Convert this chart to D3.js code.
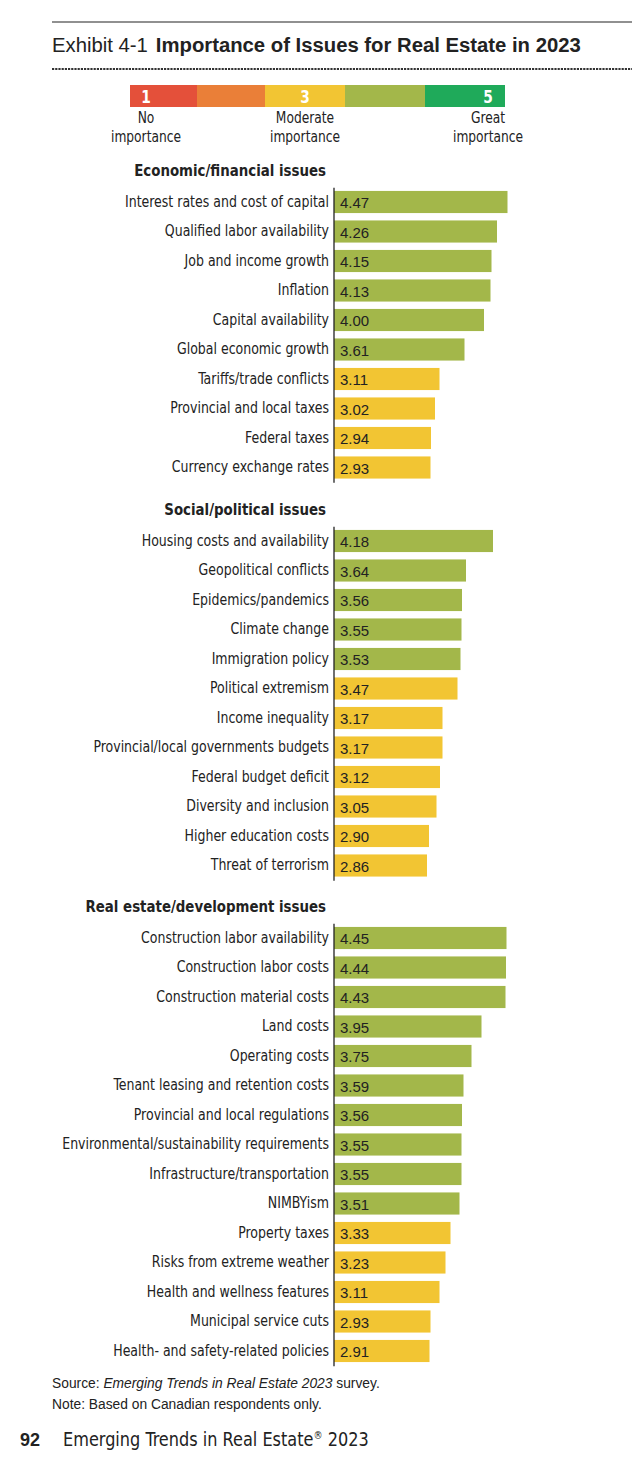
<!DOCTYPE html>
<html>
<head>
<meta charset="utf-8">
<script src="https://cdn.jsdelivr.net/npm/d3@7"></script>
<style>
  body { margin: 0; background: #fff; }
  svg { display: block; }
  .narrow { font-family: 'Liberation Sans Narrow', 'Arial Narrow', 'DejaVu Sans Condensed', sans-serif; }
  .sans { font-family: 'Liberation Sans', Arial, Helvetica, sans-serif; }
</style>
</head>
<body>
<script>
const econLabels = [
  'Interest rates and cost of capital',
  'Qualified labor availability',
  'Job and income growth',
  'Inflation',
  'Capital availability',
  'Global economic growth',
  'Tariffs/trade conflicts',
  'Provincial and local taxes',
  'Federal taxes',
  'Currency exchange rates'
];
const econValues = [4.47, 4.26, 4.15, 4.13, 4.00, 3.61, 3.11, 3.02, 2.94, 2.93];

const socialLabels = [
  'Housing costs and availability',
  'Geopolitical conflicts',
  'Epidemics/pandemics',
  'Climate change',
  'Immigration policy',
  'Political extremism',
  'Income inequality',
  'Provincial/local governments budgets',
  'Federal budget deficit',
  'Diversity and inclusion',
  'Higher education costs',
  'Threat of terrorism'
];
const socialValues = [4.18, 3.64, 3.56, 3.55, 3.53, 3.47, 3.17, 3.17, 3.12, 3.05, 2.90, 2.86];

const realLabels = [
  'Construction labor availability',
  'Construction labor costs',
  'Construction material costs',
  'Land costs',
  'Operating costs',
  'Tenant leasing and retention costs',
  'Provincial and local regulations',
  'Environmental/sustainability requirements',
  'Infrastructure/transportation',
  'NIMBYism',
  'Property taxes',
  'Risks from extreme weather',
  'Health and wellness features',
  'Municipal service cuts',
  'Health- and safety-related policies'
];
const realValues = [4.45, 4.44, 4.43, 3.95, 3.75, 3.59, 3.56, 3.55, 3.55, 3.51, 3.33, 3.23, 3.11, 2.93, 2.91];

const sectionTitles = ['Economic/financial issues', 'Social/political issues', 'Real estate/development issues'];

const legendColors = ['#e4503a', '#ea7f38', '#f2c533', '#a3b74a', '#1faa5a'];
const legendNumbers = ['1', '', '3', '', '5'];
const legendText = [['No', 'importance'], null, ['Moderate', 'importance'], null, ['Great', 'importance']];

const width = 632, height = 1460;
const axisX = 333.5;
const step = 29.5;

const svg = d3.select('body').append('svg')
  .attr('width', width)
  .attr('height', height);

// no narrow face installed, so squeeze the condensed one a bit more
function squeeze(sel, x, y, k) {
  return sel.attr('x', 0).attr('y', 0)
    .attr('transform', `translate(${x},${y}) scale(${k},1)`);
}

// header
svg.append('line')
  .attr('x1', 52).attr('x2', width)
  .attr('y1', 22).attr('y2', 22)
  .attr('stroke', '#222').attr('stroke-width', 1.2);

const title = svg.append('text')
  .attr('class', 'sans')
  .attr('x', 52).attr('y', 52)
  .style('font-size', '20.3px')
  .attr('fill', '#222');
title.append('tspan').text('Exhibit 4-1');
title.append('tspan').attr('dx', 8).style('font-weight', 'bold').text('Importance of Issues for Real Estate in 2023');

svg.append('line')
  .attr('x1', 52).attr('x2', width)
  .attr('y1', 69).attr('y2', 69)
  .attr('stroke', '#333').attr('stroke-width', 2.2)
  .attr('stroke-dasharray', '2.2,1');

// legend key
const legendEdges = [130, 197, 265, 345, 425, 505];
const legendLabelX = [146, null, 305, null, 488];
const lg = svg.append('g');
lg.selectAll('rect')
  .data(legendColors)
  .enter().append('rect')
  .attr('x', (d, i) => legendEdges[i])
  .attr('y', 85)
  .attr('width', (d, i) => legendEdges[i + 1] - legendEdges[i])
  .attr('height', 22)
  .attr('fill', d => d);
lg.selectAll('text.num')
  .data(legendNumbers)
  .enter().append('text')
  .attr('class', 'num narrow')
  .attr('text-anchor', 'middle')
  .attr('fill', '#fff')
  .style('font-size', '18px')
  .style('font-weight', 'bold')
  .text(d => d)
  .each(function(d, i) { if (d) squeeze(d3.select(this), legendLabelX[i], 103, 0.85); });
legendText.forEach((lines, i) => {
  if (!lines) return;
  const t = lg.append('text')
    .attr('class', 'narrow')
    .attr('text-anchor', 'middle')
    .attr('fill', '#222')
    .style('font-size', '15.5px');
  squeeze(t, legendLabelX[i], 123, 0.88);
  lines.forEach((s, j) => {
    t.append('tspan').attr('x', 0).attr('y', j * 19).text(s);
  });
});

// value axis: bars start at 1 (no importance)
const x = d3.scaleLinear().domain([1, 5]).range([axisX + 0.5, axisX + 0.5 + 200]);
const color = d3.scaleThreshold().domain([3.5]).range(['#f2c533', '#a3b74a']);

function section(labels, values, name, top) {
  const y = d3.scaleBand()
    .domain(labels)
    .range([top, top + step * labels.length])
    .paddingInner(0.25)
    .paddingOuter(0.125);
  const g = svg.append('g');

  squeeze(g.append('text'), 326, top - 11, 0.9)
    .attr('class', 'narrow')
    .attr('text-anchor', 'end')
    .attr('fill', '#222')
    .style('font-size', '16.5px')
    .style('font-weight', 'bold')
    .text(name);

  const rows = g.selectAll('g.row')
    .data(labels.map((l, i) => ({label: l, value: values[i]})))
    .enter().append('g');

  rows.append('rect')
    .attr('x', x(1))
    .attr('y', d => y(d.label))
    .attr('width', d => x(d.value) - x(1))
    .attr('height', y.bandwidth())
    .attr('fill', d => color(d.value));

  rows.append('text')
    .attr('class', 'sans')
    .attr('x', x(1) + 6)
    .attr('y', d => y(d.label) + y.bandwidth() / 2)
    .attr('dy', '0.4em')
    .attr('fill', '#222')
    .style('font-size', '15px')
    .text(d => d.value.toFixed(2));

  g.append('g')
    .attr('transform', `translate(${axisX},0)`)
    .call(d3.axisLeft(y).tickSize(0).tickPadding(5))
    .call(a => a.select('.domain').attr('stroke', '#222').attr('stroke-width', 1.3))
    .call(a => a.selectAll('text')
      .attr('class', 'narrow')
      .attr('fill', '#222')
      .attr('transform', 'scale(0.9,1)')
      .style('font-size', '15.5px'));
}

section(econLabels, econValues, sectionTitles[0], 187.25);
section(socialLabels, socialValues, sectionTitles[1], 526.25);
section(realLabels, realValues, sectionTitles[2], 923.25);

// footer
const src = svg.append('text')
  .attr('class', 'sans')
  .attr('x', 52).attr('y', 1388)
  .attr('fill', '#222')
  .style('font-size', '13.8px');
src.append('tspan').text('Source: ');
src.append('tspan').style('font-style', 'italic').text('Emerging Trends in Real Estate 2023');
src.append('tspan').text(' survey.');

svg.append('text')
  .attr('class', 'sans')
  .attr('x', 52).attr('y', 1409)
  .attr('fill', '#222')
  .style('font-size', '13.8px')
  .text('Note: Based on Canadian respondents only.');

svg.append('text')
  .attr('class', 'sans')
  .attr('x', 20).attr('y', 1446)
  .attr('fill', '#222')
  .style('font-size', '18px')
  .style('font-weight', 'bold')
  .text('92');

const foot = squeeze(svg.append('text'), 63, 1446, 0.92)
  .attr('class', 'narrow')
  .attr('fill', '#222')
  .style('font-size', '19.5px');
foot.append('tspan').text('Emerging Trends in Real Estate');
foot.append('tspan').attr('dy', -7).style('font-size', '11px').text('®');
foot.append('tspan').attr('dy', 7).text(' 2023');
</script>
</body>
</html>
